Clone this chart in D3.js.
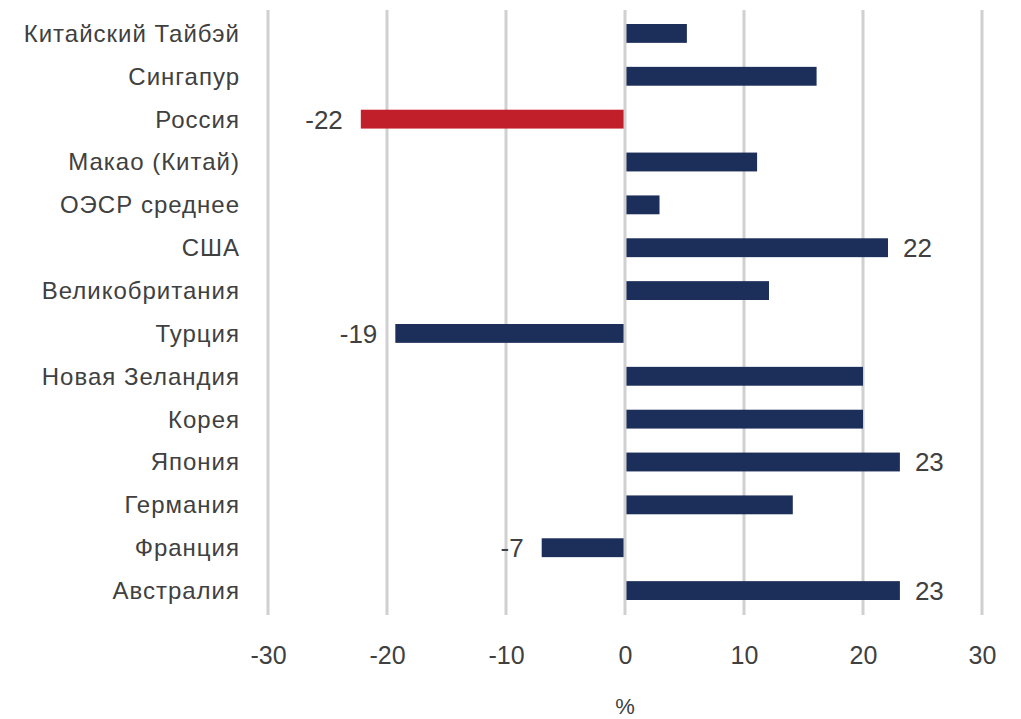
<!DOCTYPE html>
<html>
<head>
<meta charset="utf-8">
<script src="https://cdn.jsdelivr.net/npm/d3@7"></script>
<style>
  body { margin: 0; background: #fff; }
  text { font-family: "Liberation Sans", Arial, sans-serif; fill: #404040; }
</style>
</head>
<body>
<div id="chart"></div>
<script>
// categories top to bottom
const categories = ['Китайский Тайбэй', 'Сингапур', 'Россия', 'Макао (Китай)', 'ОЭСР среднее', 'США',
  'Великобритания', 'Турция', 'Новая Зеландия', 'Корея', 'Япония', 'Германия', 'Франция', 'Австралия']
const values = [5.2, 16.1, -22.2, 11.1, 2.9, 22.1, 12.1, -19.3, 20.0, 20.0, 23.1, 14.1, -7.0, 23.1]
const labelled = ['Россия', 'США', 'Турция', 'Япония', 'Франция', 'Австралия']
const highlight = ['Россия']
const xTicks = [-30, -20, -10, 0, 10, 20, 30]
const xTitle = '%'

const width = 1021, height = 719

let svg = d3.select('#chart')
  .append('svg')
  .attr('width', width)
  .attr('height', height)

let x = d3.scaleLinear()
  .domain([-30, 30])
  .range([268, 982])

let y = d3.scaleBand()
  .domain(categories)
  .range([12, 612])
  .paddingInner(0.56)
  .paddingOuter(0.28)

// gridlines (zero line drawn later, over the bars)
svg.append('g')
  .selectAll('line')
  .data(xTicks.filter(d => d !== 0))
  .enter()
  .append('line')
  .attr('x1', d => x(d))
  .attr('x2', d => x(d))
  .attr('y1', 10)
  .attr('y2', 615)
  .attr('stroke', '#d0d0d0')
  .attr('stroke-width', 3)

let rows = categories.map((c, i) => ({ name: c, value: values[i] }))

svg.append('g')
  .selectAll('rect')
  .data(rows)
  .enter()
  .append('rect')
  .attr('x', d => x(Math.min(0, d.value)))
  .attr('y', d => y(d.name))
  .attr('width', d => Math.abs(x(d.value) - x(0)))
  .attr('height', y.bandwidth())
  .attr('fill', d => highlight.includes(d.name) ? '#c1202a' : '#1c2e5a')

svg.append('line')
  .attr('x1', x(0))
  .attr('x2', x(0))
  .attr('y1', 10)
  .attr('y2', 615)
  .attr('stroke', '#d0d0d0')
  .attr('stroke-width', 3)

// category labels
svg.append('g')
  .selectAll('text')
  .data(categories)
  .enter()
  .append('text')
  .attr('x', 240)
  .attr('y', d => y(d) + y.bandwidth() / 2)
  .attr('dy', '0.35em')
  .attr('text-anchor', 'end')
  .style('font-size', '24px')
  .style('letter-spacing', '1px')
  .text(d => d)

// data labels
svg.append('g')
  .selectAll('text')
  .data(rows.filter(d => labelled.includes(d.name)))
  .enter()
  .append('text')
  .attr('x', d => d.value < 0 ? x(d.value) - 18 : x(d.value) + 15)
  .attr('y', d => y(d.name) + y.bandwidth() / 2)
  .attr('dy', '0.36em')
  .attr('text-anchor', d => d.value < 0 ? 'end' : 'start')
  .style('font-size', '26px')
  .text(d => Math.round(d.value))

// x axis
let axis = svg.append('g')
  .attr('transform', 'translate(0,615)')
  .call(d3.axisBottom(x).tickValues(xTicks).tickSize(0).tickFormat(d => String(d)))
axis.select('.domain').remove()
axis.selectAll('text')
  .attr('y', 40)
  .attr('dy', '0.35em')
  .style('font-family', '"Liberation Sans Narrow", "Liberation Sans", sans-serif')
  .style('font-size', '25px')
  .style('fill', '#404040')

svg.append('text')
  .attr('x', x(0))
  .attr('y', 706)
  .attr('dy', '0.35em')
  .attr('text-anchor', 'middle')
  .style('font-size', '22px')
  .text(xTitle)
</script>
</body>
</html>
